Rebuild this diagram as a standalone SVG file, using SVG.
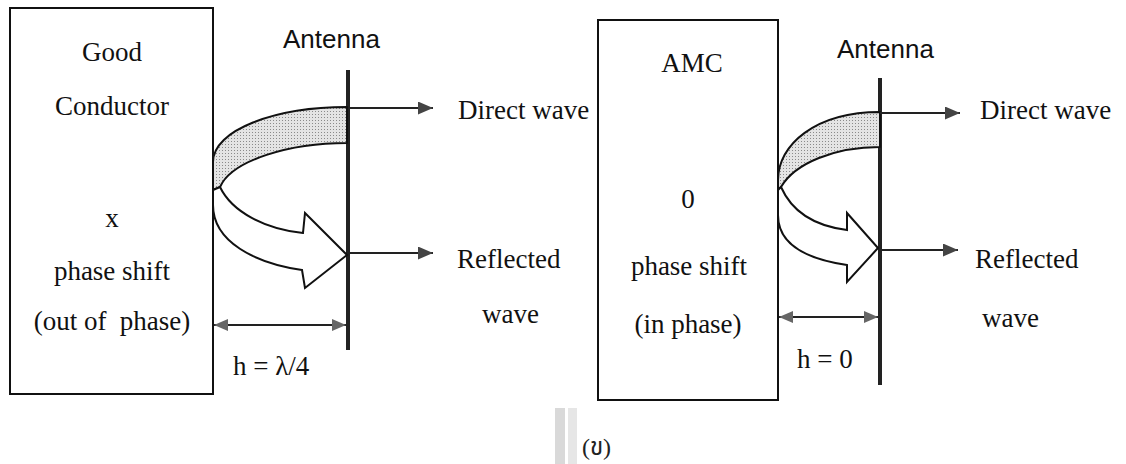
<svg xmlns="http://www.w3.org/2000/svg" width="1126" height="464" viewBox="0 0 1126 464">
<style>
.box{fill:#fff;stroke:#111;stroke-width:2}
.serif{font-family:"Liberation Serif","Times New Roman",serif;font-size:27px;fill:#111}
.sans{font-family:"Liberation Sans",Arial,sans-serif;font-size:26px;fill:#111}
.mid{text-anchor:middle}
.ant{stroke:#222;stroke-width:4;fill:none}
.ray{stroke:#222;stroke-width:1.8;fill:none;marker-end:url(#ah)}
.dim{stroke:#222;stroke-width:1.8;fill:none;marker-start:url(#dh);marker-end:url(#dh)}
.band{fill:url(#dots);stroke:#111;stroke-width:2;stroke-linejoin:round}
.warrow{fill:#fff;stroke:#111;stroke-width:2;stroke-linejoin:miter}
</style>
<defs>
<pattern id="dots" width="3" height="3" patternUnits="userSpaceOnUse">
<rect width="3" height="3" fill="#e4e4e4"/>
<rect width="1" height="1" fill="#8a8a8a"/>
</pattern>
<marker id="ah" viewBox="0 0 15 13" refX="15" refY="6.5" markerWidth="15" markerHeight="13" markerUnits="userSpaceOnUse" orient="auto">
<path d="M0,0 L15,6.5 L0,13 Z" fill="#444"/>
</marker>
<marker id="dh" viewBox="0 0 14 12" refX="14" refY="6" markerWidth="14" markerHeight="12" markerUnits="userSpaceOnUse" orient="auto-start-reverse">
<path d="M0,0 L14,6 L0,12 Z" fill="#666"/>
</marker>
</defs>
<rect width="1126" height="464" fill="#fff"/>

<g id="good-conductor">
<rect class="box" x="10" y="8" width="203" height="386"/>
<text class="serif mid" x="112" y="61">Good</text>
<text class="serif mid" x="112" y="115">Conductor</text>
<text class="serif mid" x="112" y="227">x</text>
<text class="serif mid" x="112" y="280">phase shift</text>
<text class="serif mid" x="112" y="330" xml:space="preserve">(out of  phase)</text>
</g>

<g id="antenna-left">
<line class="ant" x1="348" y1="70" x2="348" y2="350"/>
<text class="sans" x="283" y="48">Antenna</text>
</g>

<g id="amc">
<rect class="box" x="598" y="20" width="180" height="380"/>
<text class="serif mid" x="692" y="72">AMC</text>
<text class="serif mid" x="688" y="208">0</text>
<text class="serif mid" x="689" y="275">phase shift</text>
<text class="serif mid" x="688" y="333">(in phase)</text>
</g>

<g id="antenna-right">
<line class="ant" x1="880" y1="78" x2="880" y2="385"/>
<text class="sans" x="837" y="58">Antenna</text>
</g>

<g id="curved-arrow-left">
<path class="band" d="M347,107 C275,107 213,130 213,162 L213,190 L220,187 C232,160 290,143 347,143 Z"/>
<path class="warrow" d="M220,187 C232,212 265,229 303,233 L305,213 L347,255 L305,288 L302,270 C255,263 213,242 213,205 L213,190 Z"/>
</g>

<g id="curved-arrow-right">
<path class="band" d="M880,112 C815,112 778,145 778,180 L778,190 L781,187 C795,163 835,147 880,147 Z"/>
<path class="warrow" d="M781,187 C792,212 815,226 847,230 L847,213 L878,248 L847,282 L847,265 C806,259 778,245 778,215 L778,190 Z"/>
</g>

<g id="connectors">
<line class="ray" x1="348" y1="108" x2="433" y2="108"/>
<line class="ray" x1="348" y1="253" x2="433" y2="253"/>
<line class="dim" x1="214" y1="325" x2="346" y2="325"/>
<line class="ray" x1="880" y1="113" x2="960" y2="113"/>
<line class="ray" x1="880" y1="250" x2="958" y2="250"/>
<line class="dim" x1="779" y1="317" x2="878" y2="317"/>
</g>

<g id="labels">
<text class="serif" x="458" y="119">Direct wave</text>
<text class="serif" x="457" y="268">Reflected</text>
<text class="serif" x="482" y="323">wave</text>
<text class="serif" x="233" y="375">h = λ/4</text>
<text class="serif" x="980" y="119">Direct wave</text>
<text class="serif" x="975" y="268">Reflected</text>
<text class="serif" x="982" y="327">wave</text>
<text class="serif" x="797" y="368">h = 0</text>
</g>

<g id="caption">
<rect x="555" y="408" width="10" height="56" fill="#d9d9d9"/>
<rect x="568" y="408" width="9" height="56" fill="#e6e6e6"/>
<text x="582" y="455" style="font-family:'Liberation Serif','Noto Sans Thai','Noto Serif Thai',serif;font-size:24px;fill:#222">(ข)</text>
</g>
</svg>
